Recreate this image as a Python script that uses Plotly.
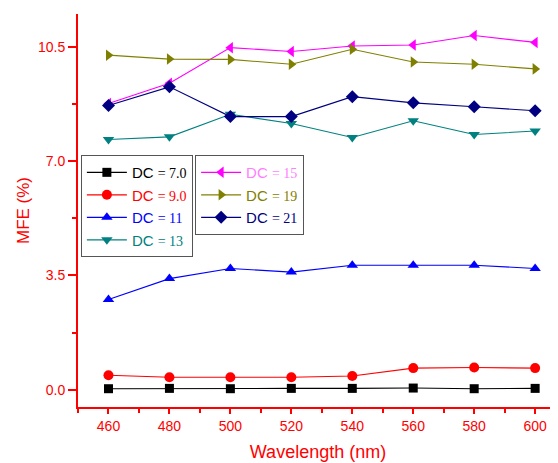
import plotly.graph_objects as go

wavelength = [460, 480, 500, 520, 540, 560, 580, 600]
dc7 = [0.03, 0.04, 0.03, 0.04, 0.04, 0.05, 0.03, 0.04]
dc9 = [0.44, 0.38, 0.38, 0.38, 0.42, 0.66, 0.68, 0.66]
dc11 = [2.76, 3.40, 3.71, 3.60, 3.81, 3.81, 3.81, 3.71]
dc13 = [7.66, 7.74, 8.43, 8.15, 7.72, 8.23, 7.81, 7.92]
dc15 = [8.76, 9.38, 10.47, 10.35, 10.52, 10.55, 10.84, 10.63]
dc19 = [10.24, 10.12, 10.11, 9.96, 10.42, 10.03, 9.96, 9.82]
dc21 = [8.70, 9.27, 8.36, 8.36, 8.97, 8.78, 8.66, 8.54]

series = [
    ("7.0", dc7, "#000000", "#000000", "square", "legend"),
    ("9.0", dc9, "#ff0000", "#ff0000", "circle", "legend"),
    ("11", dc11, "#0000ff", "#0000ff", "triangle-up", "legend"),
    ("13", dc13, "#008080", "#008080", "triangle-down", "legend"),
    ("15", dc15, "#ff00ff", "#ff80ff", "triangle-left", "legend2"),
    ("19", dc19, "#808000", "#808000", "triangle-right", "legend2"),
    ("21", dc21, "#000080", "#000080", "diamond", "legend2"),
]

fig = go.Figure()
for lab, vals, col, tcol, sym, leg in series:
    name = (f"<span style='color:{tcol}'>DC <span style='font-family:Liberation Serif;"
            f"font-size:14px'>= {lab}</span></span>")
    fig.add_trace(go.Scatter(
        x=wavelength, y=vals, mode="lines+markers", name=name,
        line=dict(color=col, width=1.1),
        marker=dict(symbol=sym, size=10 if sym != "square" else 9, color=col),
        legend=leg,
    ))

red = "#ff0000"
fig.update_layout(
    width=550, height=455,
    margin=dict(l=70, r=0, t=6, b=56, autoexpand=False),
    plot_bgcolor="white", paper_bgcolor="white",
    font=dict(family="Liberation Sans, Arial", color=red, size=14),
    legend=dict(x=0.006, y=0.641, xanchor="left", yanchor="top",
                bordercolor="#555555", borderwidth=1, bgcolor="white",
                font=dict(size=15), itemwidth=40, tracegroupgap=0),
    legend2=dict(x=0.244, y=0.641, xanchor="left", yanchor="top",
                 bordercolor="#555555", borderwidth=1, bgcolor="white",
                 font=dict(size=15), itemwidth=40, tracegroupgap=0),
)
fig.update_xaxes(
    range=[450, 607.5], tick0=460, dtick=20, showgrid=False, zeroline=False,
    automargin=False,
    showline=True, linecolor=red, linewidth=2,
    ticks="outside", ticklen=5, tickwidth=1.5, tickcolor=red,
    tickfont=dict(size=14, color=red),
    minor=dict(dtick=10, ticks="outside", ticklen=4, tickwidth=1.5, tickcolor=red),
    title=dict(text="Wavelength (nm)", font=dict(size=18, color=red), standoff=13),
)
fig.update_yaxes(
    range=[-0.53, 11.5], tick0=0, dtick=3.5, tickformat=".1f",
    showgrid=False, zeroline=False, automargin=False,
    showline=True, linecolor=red, linewidth=2,
    ticks="outside", ticklen=8, tickwidth=2, tickcolor=red,
    tickfont=dict(size=14, color=red),
    minor=dict(dtick=1.75, ticks="outside", ticklen=4, tickwidth=2, tickcolor=red),
    title=dict(text="MFE (%)", font=dict(size=17, color=red), standoff=4),
)
fig.write_html("out.html")
